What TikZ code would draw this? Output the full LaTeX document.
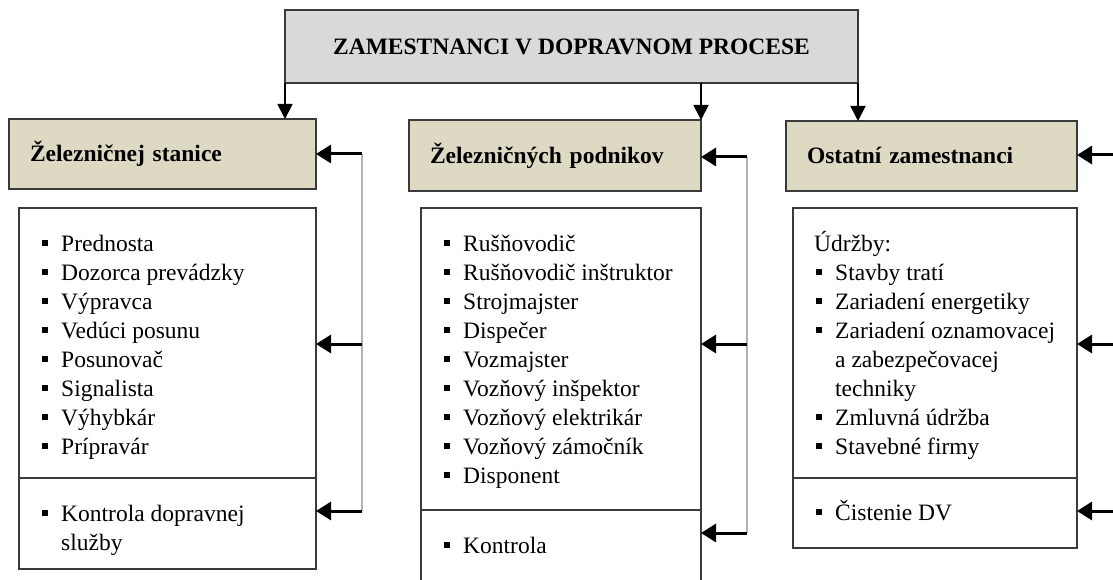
\documentclass[tikz,border=0pt]{standalone}
\usepackage{fontspec}
\setmainfont{Liberation Serif}
\usetikzlibrary{arrows.meta}
\definecolor{topfill}{HTML}{D9D9D9}
\definecolor{hdrfill}{HTML}{DDD9C3}
\definecolor{boxline}{HTML}{3A3A3A}
\definecolor{vgray}{HTML}{B4B4B4}
\newcommand{\bul}{\makebox[19pt][l]{\rule[5pt]{6pt}{6pt}}}
\tikzset{
  boxbase/.style={draw=boxline, line width=1.3pt, rectangle, inner sep=0pt, outer sep=0pt},
  topbox/.style={boxbase, fill=topfill, font={\fontsize{23.5pt}{29pt}\selectfont\bfseries},
    text height=20pt, text depth=3pt, align=center},
  hdrbox/.style={boxbase, fill=hdrfill, font={\fontsize{23.5pt}{29pt}\selectfont\bfseries},
    inner xsep=21pt, inner ysep=0pt, align=left, text height=21pt, text depth=5pt},
  listbox/.style={boxbase, fill=white},
  item/.style={anchor=base west, inner sep=0pt, font={\fontsize{23.5pt}{29pt}\selectfont}},
  downarr/.style={draw=black, line width=1.8pt, -{Triangle[length=15pt,width=15pt]}},
  sidearr/.style={draw=black, line width=3pt, -{Triangle[length=15pt,width=18pt]}},
  vline/.style={draw=vgray, line width=1.8pt},
}
\begin{document}
\begin{tikzpicture}[x=1pt,y=-1pt]
\useasboundingbox (0,0) rectangle (1113,580);
\clip (0,0) rectangle (1113,580);
\fill[white] (0,0) rectangle (1113,580);

% top box
\node[topbox, minimum width=573pt, minimum height=73pt] (top) at (571.5,46.5) {ZAMESTNANCI V DOPRAVNOM PROCESE};

% headers
\node[hdrbox, text width=265pt, minimum height=70pt] (h1) at (162.5,154) {Železničnej stanice};
\node[hdrbox, text width=250pt, minimum height=71pt] (h2) at (555,155.5) {Železničných podnikov};
\node[hdrbox, text width=249pt, minimum height=70pt] (h3) at (931.5,156) {Ostatní zamestnanci};

% list boxes
\node[listbox, minimum width=297pt, minimum height=270pt] (b1u) at (167.5,343) {};
\node[listbox, minimum width=297pt, minimum height=91pt] (b1l) at (167.5,523.5) {};
\node[listbox, minimum width=280pt, minimum height=302pt] (b2u) at (561,359) {};
\node[listbox, minimum width=280pt, minimum height=90pt] (b2l) at (561,555) {};
\node[listbox, minimum width=284pt, minimum height=270pt] (b3u) at (935,343) {};
\node[listbox, minimum width=284pt, minimum height=70pt] (b3l) at (935,513) {};

% left list
\foreach \t [count=\i from 0] in {Prednosta,Dozorca prevádzky,Výpravca,Vedúci posunu,Posunovač,Signalista,Výhybkár,Prípravár}
  \node[item] (la\i) at (42,{251+29*\i}) {\bul\t};
\node[item] (lk1) at (42,521) {\bul Kontrola dopravnej};
\node[item] (lk2) at (61,550) {služby};

% middle list
\foreach \t [count=\i from 0] in {Rušňovodič,Rušňovodič inštruktor,Strojmajster,Dispečer,Vozmajster,Vozňový inšpektor,Vozňový elektrikár,Vozňový zámočník,Disponent}
  \node[item] (ma\i) at (444,{251+29*\i}) {\bul\t};
\node[item] (mk1) at (444,553) {\bul Kontrola};

% right list
\node[item] (ra0) at (814,251) {Údržby:};
\node[item] (ra1) at (816,280) {\bul Stavby tratí};
\node[item] (ra2) at (816,309) {\bul Zariadení energetiky};
\node[item] (ra3) at (816,338) {\bul Zariadení oznamovacej};
\node[item] (ra4) at (835,367) {a zabezpečovacej};
\node[item] (ra5) at (835,396) {techniky};
\node[item] (ra6) at (816,425) {\bul Zmluvná údržba};
\node[item] (ra7) at (816,454) {\bul Stavebné firmy};
\node[item] (rk1) at (816,520) {\bul Čistenie DV};

% down arrows from top box
\draw[downarr] (top.south west) -- (top.south west |- h1.north);
\draw[downarr] (h2.north east |- top.south) -- (h2.north east);
\draw[downarr] (top.south east) -- (top.south east |- h3.north);

% side connectors
\coordinate (c1a) at (362,154);
\coordinate (c1b) at (362,344);
\coordinate (c1c) at (362,511);
\coordinate (c2a) at (747,157);
\coordinate (c2b) at (747,344);
\coordinate (c2c) at (747,533);
\coordinate (c3a) at (1113,155);
\coordinate (c3b) at (1113,344);
\coordinate (c3c) at (1113,511);

\draw[vline] (c1a) -- (c1c);
\draw[vline] (c2a) -- (c2c);

\draw[sidearr] (c1a) -- (h1.east |- c1a);
\draw[sidearr] (c1b) -- (b1u.east |- c1b);
\draw[sidearr] (c1c) -- (b1l.east |- c1c);
\draw[sidearr] (c2a) -- (h2.east |- c2a);
\draw[sidearr] (c2b) -- (b2u.east |- c2b);
\draw[sidearr] (c2c) -- (b2l.east |- c2c);
\draw[sidearr] (c3a) -- (h3.east |- c3a);
\draw[sidearr] (c3b) -- (b3u.east |- c3b);
\draw[sidearr] (c3c) -- (b3l.east |- c3c);
\end{tikzpicture}
\end{document}
